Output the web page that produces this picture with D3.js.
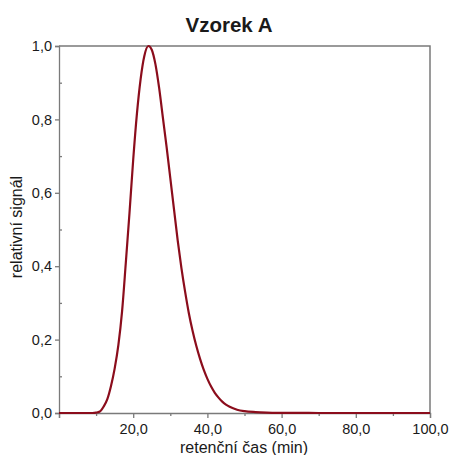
<!DOCTYPE html>
<html>
<head>
<meta charset="utf-8">
<script src="https://cdn.jsdelivr.net/npm/d3@7"></script>
<style>
  body { margin: 0; background: #fff; }
  svg text { font-family: "Liberation Sans", Arial, sans-serif; fill: #1a1a1a; }
</style>
</head>
<body>
<svg id="chart"></svg>
<script>
// retention time (min) and relative signal
var times  = [0, 5, 9, 10, 11, 12, 13, 14, 15, 16, 17, 18, 19, 20, 21, 22, 23, 24.1,
              25, 26, 27, 28, 29, 30, 31, 32, 33, 34, 35, 36, 37, 38, 39, 40, 41, 42, 43, 44, 45, 46,
              48, 50, 53, 56, 60, 65, 70, 80, 100]
var signal = [0, 0, 0, 0.001, 0.004, 0.017, 0.037, 0.073, 0.121, 0.185, 0.277, 0.408, 0.545, 0.69, 0.815, 0.91, 0.973, 1.0,
              0.99, 0.95, 0.885, 0.805, 0.725, 0.64, 0.555, 0.47, 0.395, 0.330, 0.272, 0.224, 0.183, 0.148, 0.118, 0.093, 0.072, 0.055, 0.042, 0.031, 0.023, 0.017,
              0.009, 0.005, 0.0025, 0.0012, 0.0005, 0.0002, 0, 0, 0]

var xMajor = [0, 20, 40, 60, 80, 100]
var xMinor = [10, 30, 50, 70, 90]
var yMajor = [0, 0.2, 0.4, 0.6, 0.8, 1.0]
var yMinor = [0.1, 0.3, 0.5, 0.7, 0.9]

var title = "Vzorek A"
var xTitle = "retenční čas (min)"
var yTitle = "relativní signál"

var dimensions = {
  width: 449,
  height: 455,
  margin: { top: 46, bottom: 42, right: 19, left: 59 }
}

var svg = d3.select("#chart")
  .attr("width", dimensions.width)
  .attr("height", dimensions.height)

var xScale = d3.scaleLinear()
  .domain([0, 100])
  .range([dimensions.margin.left, dimensions.width - dimensions.margin.right])

var yScale = d3.scaleLinear()
  .domain([0, 1])
  .range([dimensions.height - dimensions.margin.bottom, dimensions.margin.top])

var comma = v => d3.format(".1f")(v).replace(".", ",")
var axisColor = "#7a7a7a"

// frame top + right
svg.append("path")
  .attr("d", `M${xScale(0)},${yScale(1)}H${xScale(100)}V${yScale(0)}`)
  .attr("fill", "none")
  .attr("stroke", axisColor)
  .attr("stroke-width", 1.5)

// x axis
var xAxis = svg.append("g")
  .attr("transform", `translate(0,${yScale(0)})`)
  .call(d3.axisBottom(xScale).tickValues(xMajor).tickSize(5)
    .tickFormat(d => d === 0 ? "" : comma(d)))
svg.append("g")
  .attr("transform", `translate(0,${yScale(0)})`)
  .call(d3.axisBottom(xScale).tickValues(xMinor).tickSize(3).tickFormat(""))
  .call(g => g.select(".domain").remove())

// y axis
var yAxis = svg.append("g")
  .attr("transform", `translate(${xScale(0)},0)`)
  .call(d3.axisLeft(yScale).tickValues(yMajor).tickSize(4).tickFormat(comma))
svg.append("g")
  .attr("transform", `translate(${xScale(0)},0)`)
  .call(d3.axisRight(yScale).tickValues(yMinor).tickSize(3).tickFormat(""))
  .call(g => g.select(".domain").remove())

svg.selectAll(".domain, .tick line")
  .attr("stroke", axisColor)
  .attr("stroke-width", 1.3)
svg.selectAll(".tick text")
  .style("font-size", "14.5px")
  .attr("fill", "#1a1a1a")
xAxis.selectAll(".tick text").attr("dy", "0.9em")

// curve
var line = d3.line()
  .x((d, i) => xScale(times[i]))
  .y(d => yScale(d))
  .curve(d3.curveMonotoneX)

svg.append("path")
  .datum(signal)
  .attr("d", line)
  .attr("fill", "none")
  .attr("stroke", "#8b0d1c")
  .attr("stroke-width", 2.2)

// titles
svg.append("text")
  .text(title)
  .attr("x", 229)
  .attr("y", 32)
  .attr("text-anchor", "middle")
  .style("font-size", "20.5px")
  .style("font-weight", "bold")

svg.append("text")
  .text(xTitle)
  .attr("x", 244)
  .attr("y", 453)
  .attr("text-anchor", "middle")
  .style("font-size", "16px")

svg.append("text")
  .text(yTitle)
  .attr("text-anchor", "middle")
  .attr("transform", "translate(22,227) rotate(-90)")
  .style("font-size", "16px")
</script>
</body>
</html>
